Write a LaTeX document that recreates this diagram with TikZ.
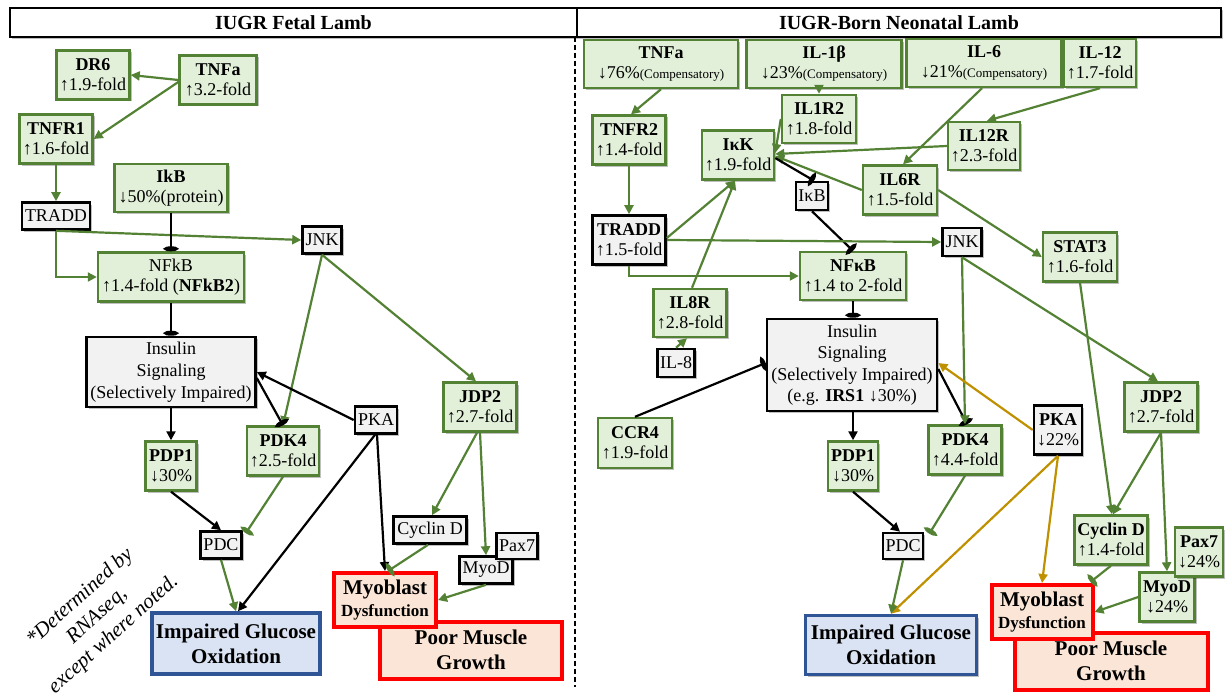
\documentclass[tikz,border=0pt]{standalone}
\usepackage{fontspec}
\setmainfont{Liberation Serif}
\usetikzlibrary{arrows.meta,shadows,calc}
\definecolor{gb}{HTML}{548235}
\definecolor{gf}{HTML}{E2F0D9}
\definecolor{kf}{HTML}{F2F2F2}
\definecolor{bb}{HTML}{2F5597}
\definecolor{bf}{HTML}{DAE3F3}
\definecolor{rf}{HTML}{FBE5D6}
\definecolor{au}{HTML}{BF9000}
\newcommand\fsz[2]{\fontsize{#1}{#2}\selectfont}
\begin{document}
\begin{tikzpicture}[x=1pt,y=-1pt,
  box/.style={align=center, inner sep=0pt, line width=2.4pt,
    drop shadow={shadow xshift=2pt, shadow yshift=-2pt, opacity=0.25, fill=black},
    font=\fsz{18}{20}},
  gbox/.style={box, draw=gb, fill=gf},
  kbox/.style={box, draw=black, fill=kf, line width=2.6pt},
  bbox/.style={box, draw=bb, fill=bf, line width=3.5pt, font=\bfseries\fsz{21}{25}},
  rbox/.style={box, draw=red, fill=rf, line width=4pt, font=\bfseries\fsz{21}{25}},
  hbox/.style={box, draw=black, fill=white, line width=2pt, font=\bfseries\fsz{20}{22}},
  sz/.style 2 args={minimum width=#1pt, minimum height=#2pt},
  ga/.style={draw=gb, line width=2.2pt, -{Triangle[length=9pt,width=9pt]}},
  ka/.style={draw=black, line width=2.2pt, -{Triangle[length=9pt,width=9pt]}},
  oa/.style={draw=au, line width=2.2pt, -{Triangle[length=9pt,width=9pt]}},
  gi/.style={draw=gb, line width=2.2pt, -{Ellipse[length=5pt,width=14pt]}},
  ki/.style={draw=black, line width=2.2pt, -{Ellipse[length=5pt,width=14pt]}}
]
\useasboundingbox (0,0) rectangle (1228,698);

% headers and divider
\node[hbox, sz={567}{29}] (hdrL) at (293.5,22.5) {IUGR Fetal Lamb};
\node[hbox, sz={644}{29}] (hdrR) at (899,22.5) {IUGR-Born Neonatal Lamb};
\coordinate (divT) at (575,37);
\coordinate (divB) at (575,687);
\draw[line width=2pt, dash pattern=on 5pt off 3pt] (divT) -- (divB);

% ---------------- left panel ----------------
\node[gbox, sz={73}{49}] (dr6L) at (93,75) {\textbf{DR6}\\↑1.9-fold};
\node[gbox, sz={77}{49}] (tnfaL) at (218,80) {\textbf{TNFa}\\↑3.2-fold};
\node[gbox, sz={73}{49}] (tnfr1L) at (56,139) {\textbf{TNFR1}\\↑1.6-fold};
\node[gbox, sz={113}{48}] (ikbL) at (171,188) {\textbf{IkB}\\↓50\%(protein)};
\node[kbox, sz={68}{27}] (traddL) at (56,216) {TRADD};
\node[gbox, sz={146}{49}] (nfkbL) at (171,277) {NFkB\\↑1.4-fold (\textbf{NFkB2})};
\node[kbox, sz={169}{70}, font=\fsz{18}{22}] (insL) at (171,372) {Insulin\\Signaling\\(Selectively Impaired)};
\node[kbox, sz={39}{27}] (jnkL) at (322,240) {JNK};
\node[kbox, sz={42}{27}] (pkaL) at (376,420) {PKA};
\node[gbox, sz={73}{49}] (jdp2L) at (480,407) {\textbf{JDP2}\\↑2.7-fold};
\node[gbox, sz={72}{49}] (pdk4L) at (283,451) {\textbf{PDK4}\\↑2.5-fold};
\node[gbox, sz={51}{49}] (pdp1L) at (171,466) {\textbf{PDP1}\\↓30\%};
\node[kbox, sz={41}{27}] (pdcL) at (221,545) {PDC};
\node[bbox, sz={168}{61}] (igoL) at (236,643.5) {Impaired Glucose\\Oxidation};
\node[kbox, sz={73}{27}] (cycL) at (430,530) {Cyclin D};
\node[kbox, sz={53}{27}] (myodL) at (486,570) {MyoD};
\node[kbox, sz={41}{26}] (pax7L) at (517,546) {Pax7};
\node[rbox, sz={182}{57}] (pmgL) at (471,650) {Poor Muscle\\Growth};
\node[rbox, sz={102}{54}, font=\bfseries\fsz{21}{22}] (mybL) at (385,600) {Myoblast\\{\fsz{17}{19}Dysfunction}};
\node[rotate=42, align=center, font=\itshape\fsz{21}{25}] (note) at (97,616) {*Determined by\\RNAseq,\\except where noted.};

\draw[ga] (tnfaL.west) -- (dr6L.east);
\draw[ga] ($(tnfaL.west)+(0,2)$) -- (tnfr1L.east);
\draw[ga] (tnfr1L.south) -- (traddL.north);
\draw[ga] (traddL.south) -- (jnkL.west);
\draw[ga] (traddL.south) |- (nfkbL.west);
\draw[ki] (ikbL.south) -- (nfkbL.north);
\draw[ki] (nfkbL.south) -- (insL.north);
\draw[ga] (jnkL.south) -- (pdk4L.north);
\draw[ga] (jnkL.south) -- ($(jdp2L.north)+(-4,0)$);
\draw[ki] ($(insL.east)+(0,6)$) -- (pdk4L.north);
\draw[ka] (pkaL.west) -- (insL.east);
\draw[ka] (insL.south) -- (pdp1L.north);
\draw[ka] (pdp1L.south) -- (pdcL.north);
\draw[gi] (pdk4L.south) -- ($(pdcL.north east)+(3,3)$);
\draw[ga] (pdcL.south) -- (igoL.north);
\draw[ka] ($(pkaL.south)+(-1,0)$) -- ($(igoL.north)+(2,0)$);
\draw[ka] ($(pkaL.south)+(1,0)$) -- (mybL.north);
\draw[ga] ($(jdp2L.south)+(-3,0)$) -- ($(cycL.north)+(2,0)$);
\draw[ga] (jdp2L.south) -- (myodL.north);
\draw[gi] ($(cycL.south)+(-2,0)$) -- ($(mybL.north)+(3,0)$);
\draw[ga] (myodL.south) -- (mybL.east);

% ---------------- right panel ----------------
\node[gbox, sz={154}{48}] (tnfaR) at (661,64) {\textbf{TNFa}\\↓76\%{\fsz{13}{15}(Compensatory)}};
\node[gbox, sz={155}{48}] (il1bR) at (824,64) {\textbf{IL-1β}\\↓23\%{\fsz{13}{15}(Compensatory)}};
\node[gbox, sz={155}{48}] (il6R) at (984,63) {\textbf{IL-6}\\↓21\%{\fsz{13}{15}(Compensatory)}};
\node[gbox, sz={72}{48}] (il12R) at (1100,63) {\textbf{IL-12}\\↑1.7-fold};
\node[gbox, sz={74}{48}] (il1r2) at (819,119) {\textbf{IL1R2}\\↑1.8-fold};
\node[gbox, sz={73}{49}] (tnfr2) at (629,140) {\textbf{TNFR2}\\↑1.4-fold};
\node[gbox, sz={72}{49}] (ikk) at (738,155) {\textbf{IκK}\\↑1.9-fold};
\node[kbox, sz={32}{28}] (ikbR) at (812,196) {IκB};
\node[gbox, sz={74}{49}] (il6rR) at (900,190) {\textbf{IL6R}\\↑1.5-fold};
\node[gbox, sz={72}{48}] (il12rR) at (984,146) {\textbf{IL12R}\\↑2.3-fold};
\node[kbox, sz={73}{49}] (traddR) at (629,240) {\textbf{TRADD}\\↑1.5-fold};
\node[gbox, sz={106}{48}] (nfkbR) at (853,276) {\textbf{NFκB}\\↑1.4 to 2-fold};
\node[gbox, sz={73}{48}] (il8r) at (690,313) {\textbf{IL8R}\\↑2.8-fold};
\node[kbox, sz={37}{28}] (il8) at (676,363) {IL-8};
\node[kbox, sz={170}{92}, font=\fsz{18}{21.5}] (insR) at (852,365) {Insulin\\Signaling\\(Selectively Impaired)\\(e.g. \textbf{IRS1} ↓30\%)};
\node[gbox, sz={74}{50}] (ccr4) at (635,443) {\textbf{CCR4}\\↑1.9-fold};
\node[kbox, sz={39}{28}] (jnkR) at (962,242) {JNK};
\node[gbox, sz={74}{49}] (stat3) at (1080,257) {\textbf{STAT3}\\↑1.6-fold};
\node[gbox, sz={73}{49}] (jdp2R) at (1161,407) {\textbf{JDP2}\\↑2.7-fold};
\node[kbox, sz={48}{49}] (pkaR) at (1058,430) {\textbf{PKA}\\↓22\%};
\node[gbox, sz={73}{49}] (pdk4R) at (965,450) {\textbf{PDK4}\\↑4.4-fold};
\node[gbox, sz={50}{49}] (pdp1R) at (853,466) {\textbf{PDP1}\\↓30\%};
\node[kbox, sz={40}{26}] (pdcR) at (903,546) {PDC};
\node[bbox, sz={171}{59}] (igoR) at (891,645) {Impaired Glucose\\Oxidation};
\node[gbox, sz={73}{49}] (cycR) at (1111,540) {\textbf{Cyclin D}\\↑1.4-fold};
\node[gbox, sz={55}{49}] (myodR) at (1167,597) {\textbf{MyoD}\\↓24\%};
\node[gbox, sz={48}{49}] (pax7R) at (1199,552) {\textbf{Pax7}\\↓24\%};
\node[rbox, sz={193}{57}] (pmgR) at (1111,661) {Poor Muscle\\Growth};
\node[rbox, sz={101}{54}, font=\bfseries\fsz{21}{22}] (mybR) at (1042,612) {Myoblast\\{\fsz{17}{19}Dysfunction}};

\draw[ga] (tnfaR.south) -- ($(tnfr2.north)+(2,0)$);
\draw[ga] (tnfr2.south) -- (traddR.north);
\draw[ga] (il1bR.south -| il1r2.north) -- (il1r2.north);
\draw[ga] (il1r2.west) -- ($(ikk.east)+(0,-2)$);
\draw[ga] (il12rR.west) -- ($(ikk.east)+(0,-1)$);
\draw[ga] (il6rR.west) -- ($(ikk.east)+(0,1)$);
\draw[ga] ($(il6R.south)+(-2,0)$) -- ($(il6rR.north)+(3,0)$);
\draw[ga] (il12R.south) -- ($(il12rR.north)+(3,0)$);
\draw[ki] ($(ikk.east)+(0,3)$) -- ($(ikbR.north)+(2,0)$);
\draw[ki] (ikbR.south) -- (nfkbR.north);
\draw[ga] ($(traddR.east)+(0,-2)$) -- ($(ikk.south)+(-3,0)$);
\draw[ga] ($(il8r.north)+(2,0)$) -- ($(ikk.south)+(-3,0)$);
\draw[ga] (traddR.east) -- (jnkR.west);
\draw[ga] (traddR.south) |- (nfkbR.west);
\draw[ga] (il8.north) -- ($(il8r.south)+(-3,0)$);
\draw[ki] (nfkbR.south) -- (nfkbR.south |- insR.north);
\draw[ki] (ccr4.north) -- ($(insR.west)+(0,-2)$);
\draw[ka] (insR.south -| pdp1R.north) -- (pdp1R.north);
\draw[ki] ($(insR.east)+(0,4)$) -- ($(pdk4R.north)+(2,0)$);
\draw[ga] (jnkR.south) -- (pdk4R.north);
\draw[ga] (jnkR.south) -- ($(jdp2R.north)+(-3,0)$);
\draw[ga] (il6rR.east) -- (stat3.west);
\draw[ga] (stat3.south) -- ($(cycR.north)+(1,0)$);
\draw[ga] (jdp2R.south) -- ($(cycR.north)+(2,0)$);
\draw[ga] (jdp2R.south) -- (myodR.north);
\draw[oa] (pkaR.west) -- ($(insR.east)+(0,-2)$);
\draw[oa] (pkaR.south) -- (igoR.north);
\draw[oa] (pkaR.south) -- (mybR.north);
\draw[ka] (pdp1R.south) -- ($(pdcR.north)+(-3,0)$);
\draw[gi] (pdk4R.south) -- ($(pdcR.north east)+(5,2)$);
\draw[ga] (pdcR.south) -- (igoR.north);
\draw[gi] (cycR.south) -- ($(mybR.north east)+(-4,-1)$);
\draw[ga] (myodR.west) -- (mybR.east);
\end{tikzpicture}
\end{document}
